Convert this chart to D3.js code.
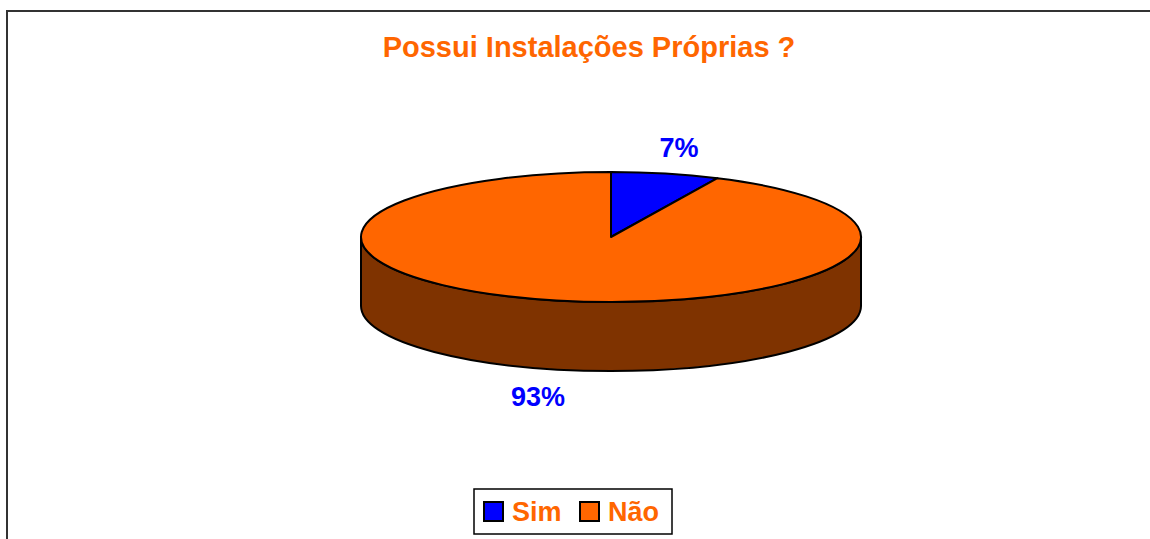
<!DOCTYPE html>
<html>
<head>
<meta charset="utf-8">
<script src="https://cdn.jsdelivr.net/npm/d3@7"></script>
<style>
  body { margin: 0; background: #fff; }
  text { font-family: "Liberation Sans", Arial, sans-serif; font-weight: bold; }
</style>
</head>
<body>
<div id="chart-area"></div>
<script>
// Dados
const categories = ["Sim", "Não"];
const values = [7, 93];
const sliceColors = ["#0000FF", "#FF6600"];
const sideColors = ["#00007F", "#7F3300"];
const titleText = "Possui Instalações Próprias ?";

// Lienzo
const W = 1150, H = 539;
const cx = 611, cy = 237, rx = 250, ry = 65, depth = 69;

const svg = d3.select("#chart-area")
    .append("svg")
    .attr("width", W)
    .attr("height", H);

// Borde del área del gráfico
svg.append("rect")
    .attr("x", 7).attr("y", 11)
    .attr("width", 1300).attr("height", 700)
    .attr("fill", "none")
    .attr("stroke", "#333")
    .attr("stroke-width", 2);

// Título
svg.append("text")
    .attr("x", 589).attr("y", 57)
    .attr("text-anchor", "middle")
    .attr("fill", "#FF6600")
    .style("font-size", "29px")
    .text(titleText);

// Pie
const pie = d3.pie().sort(null).startAngle(0).endAngle(2 * Math.PI);
const arcs = pie(values);

// punto sobre la elipse (ángulo en sentido horario desde las 12)
const pt = (a, dy = 0) => [cx + rx * Math.sin(a), cy - ry * Math.cos(a) + dy];

const g = svg.append("g");

// Caras laterales (sólo la mitad frontal)
arcs.forEach((d, i) => {
    const s = Math.max(d.startAngle, Math.PI / 2);
    const e = Math.min(d.endAngle, 3 * Math.PI / 2);
    if (e <= s) return;
    const p0 = pt(s), p1 = pt(e), q1 = pt(e, depth), q0 = pt(s, depth);
    g.append("path")
        .attr("d", `M${p0}A${rx},${ry} 0 0 1 ${p1}L${q1}A${rx},${ry} 0 0 0 ${q0}Z`)
        .attr("fill", sideColors[i])
        .attr("stroke", "#000")
        .attr("stroke-width", 2)
        .attr("stroke-linejoin", "round");
});

// Caras superiores
arcs.forEach((d, i) => {
    const p0 = pt(d.startAngle), p1 = pt(d.endAngle);
    const large = d.endAngle - d.startAngle > Math.PI ? 1 : 0;
    g.append("path")
        .attr("d", `M${cx},${cy}L${p0}A${rx},${ry} 0 ${large} 1 ${p1}Z`)
        .attr("fill", sliceColors[i])
        .attr("stroke", "#000")
        .attr("stroke-width", 2)
        .attr("stroke-linejoin", "round");
});

// Etiquetas de porcentaje
const labelPos = [[679, 157], [538, 406]];
const total = d3.sum(values);
svg.selectAll(".pct")
    .data(arcs)
    .enter().append("text")
    .attr("class", "pct")
    .attr("x", (d, i) => labelPos[i][0])
    .attr("y", (d, i) => labelPos[i][1])
    .attr("text-anchor", "middle")
    .attr("fill", "#0000FF")
    .style("font-size", "27px")
    .text(d => Math.round(d.value / total * 100) + "%");

// Leyenda
const legend = svg.append("g");
legend.append("rect")
    .attr("x", 474).attr("y", 489)
    .attr("width", 198).attr("height", 45)
    .attr("fill", "#fff")
    .attr("stroke", "#000")
    .attr("stroke-width", 1.5);

const legendX = [484, 580];
const item = legend.selectAll(".legendGroup")
    .data(categories)
    .enter().append("g")
    .attr("class", "legendGroup")
    .attr("transform", (d, i) => `translate(${legendX[i]}, 502)`);

item.append("rect")
    .attr("width", 19).attr("height", 19)
    .attr("fill", (d, i) => sliceColors[i])
    .attr("stroke", "#000")
    .attr("stroke-width", 2);

item.append("text")
    .attr("x", 28).attr("y", 19)
    .attr("fill", "#FF6600")
    .style("font-size", "27px")
    .text(d => d);
</script>
</body>
</html>
